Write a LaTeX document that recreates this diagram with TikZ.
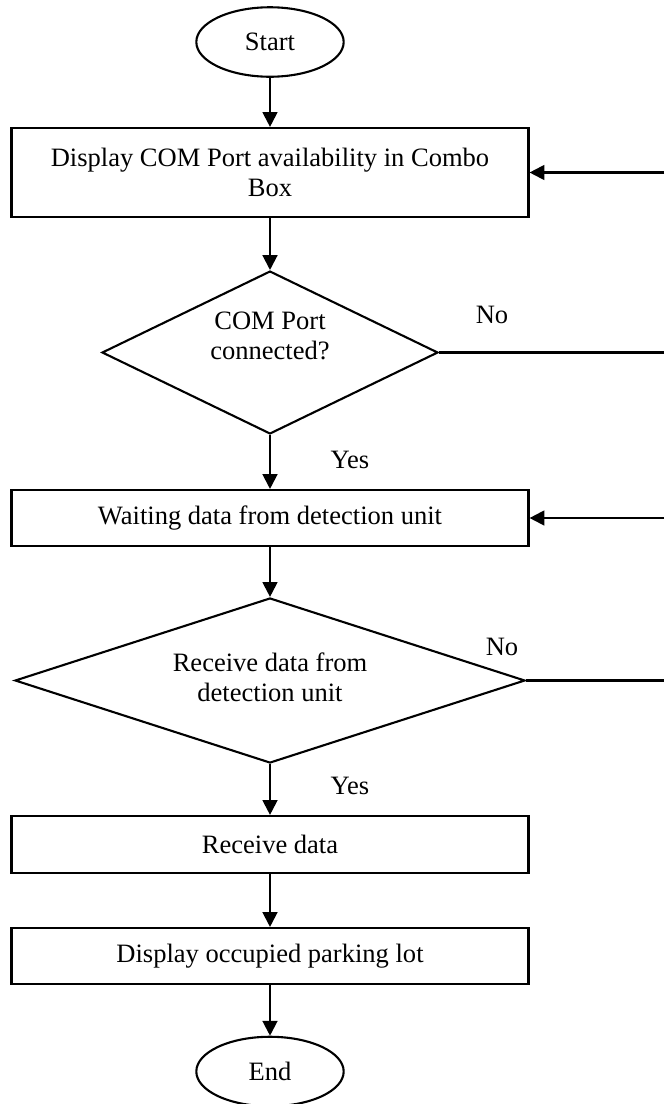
\documentclass[tikz,border=0pt]{standalone}
\usepackage{fontspec}
\setmainfont{Liberation Serif}
\usetikzlibrary{shapes.geometric, arrows.meta}

\begin{document}
\begin{tikzpicture}[->, x=0.475pt, y=-0.475pt, line width=1pt,
>={Triangle[length=7pt, width=7pt]}, font=\fontsize{12.6}{14.3}\selectfont,
term/.style={ellipse, draw, minimum width=70pt, minimum height=33pt, inner sep=0pt},
proc/.style={rectangle, draw, minimum width=245.6pt, align=center, inner sep=0pt},
dec/.style={diamond, draw, align=center, inner sep=0pt}]
  \useasboundingbox (0,0) rectangle (664,1104);
  % start
  \node[term] (start) at (270,42) {Start};
  % com port
  \node[proc, minimum height=42.3pt] (disp) at (270,172.5) {Display COM Port availability in Combo\\Box};
  \node[dec, minimum width=159.6pt, minimum height=77.4pt, aspect=2] (conn) at (270,352.5) {};
  \node[align=center] (conntext) at (270,336) {COM Port\\connected?};
  % data
  \node[proc, minimum height=26.6pt] (wait) at (270,518) {Waiting data from detection unit};
  \node[dec, minimum width=242.3pt, minimum height=78.4pt, aspect=3] (recv) at (270,680.5) {};
  \node[align=center] (recvtext) at (270,677) {Receive data from\\detection unit};
  \node[proc, minimum height=27.1pt] (rdata) at (270,844.5) {Receive data};
  \node[proc, minimum height=26.6pt] (lot) at (270,956) {Display occupied parking lot};
  % end
  \node[term] (end) at (270,1071.5) {End};
  % labels
  \node (no1) at (492,315) {No};
  \node (no2) at (502,647) {No};
  \node (yes1) at (350,460) {Yes};
  \node (yes2) at (350,786) {Yes};
  % loop ends at the right edge
  \coordinate (r1) at (664,172.5);
  \coordinate (r2) at (664,352.5);
  \coordinate (r3) at (664,518);
  \coordinate (r4) at (664,680.5);

\foreach \from/\to in {start/disp,disp/conn,conn/wait,wait/recv,recv/rdata,rdata/lot,lot/end}
    \draw (\from) -- (\to);
\foreach \from/\to in {r1/disp,r3/wait}
    \draw (\from) -- (\to);
\draw[-] (conn.east) -- (r2);
\draw[-] (recv.east) -- (r4);
\end{tikzpicture}
\end{document}
